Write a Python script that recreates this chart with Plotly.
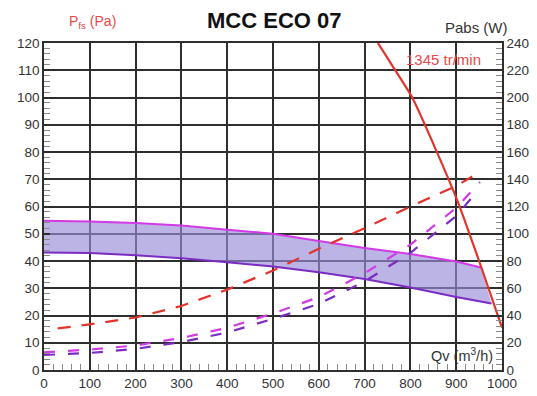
import plotly.graph_objects as go

# ---- data ----
fan_q = [729, 765, 804, 850, 903, 950, 1000]
fan_p = [120, 110.5, 100, 83, 62, 40, 15.5]

upper_q = [0, 100, 200, 300, 400, 500, 600, 700, 800, 900, 954]
upper_p = [54.8, 54.5, 53.9, 53, 51.5, 50, 47.3, 44.8, 42.6, 39.8, 37.6]

lower_q = [0, 100, 200, 300, 400, 500, 600, 700, 800, 900, 977]
lower_p = [43.1, 42.9, 42.1, 41, 39.5, 38, 35.9, 33.4, 30.3, 26.8, 24.4]

pabs_red_q = [30, 100, 200, 300, 400, 500, 600, 700, 800, 900, 935]
pabs_red_w = [30.5, 33.5, 38.5, 47, 59, 73, 89, 104, 120, 135, 142]

pabs_mag_q = [0, 100, 200, 300, 400, 500, 600, 700, 800, 900, 952]
pabs_mag_w = [13, 15, 18, 23.5, 31, 41.5, 53.5, 71, 92, 119, 138]

pabs_pur_q = [0, 100, 200, 300, 400, 500, 600, 700, 800, 900, 938]
pabs_pur_w = [11, 12.5, 15.5, 20.5, 27.5, 37.5, 48.5, 65, 86, 113, 128]

x_ticks = list(range(0, 1001, 100))
left_ticks = list(range(0, 121, 10))
right_ticks = list(range(0, 241, 20))

RED = "#e3342c"
LABEL_RED = "#e8484a"
MAG = "#d23ae6"
PUR = "#7b2cc2"
FILL = "rgba(150,140,215,0.65)"
GRID = "#2e2e2e"
MINOR = "#8a8a8a"
FONT = "Liberation Sans, Arial, sans-serif"

fig = go.Figure()

# band fill
fig.add_trace(go.Scatter(
    x=upper_q + lower_q[::-1], y=upper_p + lower_p[::-1],
    fill="toself", fillcolor=FILL, line=dict(width=0), mode="lines",
    hoverinfo="skip", showlegend=False))
fig.add_trace(go.Scatter(x=upper_q, y=upper_p, mode="lines",
                         line=dict(color=MAG, width=2), showlegend=False))
fig.add_trace(go.Scatter(x=lower_q, y=lower_p, mode="lines",
                         line=dict(color=PUR, width=2), showlegend=False))

# power curves (right axis)
fig.add_trace(go.Scatter(x=pabs_red_q, y=pabs_red_w, yaxis="y2", mode="lines",
                         line=dict(color=RED, width=2.2, dash="13px,11px"), showlegend=False))
fig.add_trace(go.Scatter(x=pabs_mag_q, y=pabs_mag_w, yaxis="y2", mode="lines",
                         line=dict(color=MAG, width=2.2, dash="11px,13px"), showlegend=False))
fig.add_trace(go.Scatter(x=pabs_pur_q, y=pabs_pur_w, yaxis="y2", mode="lines",
                         line=dict(color=PUR, width=2.2, dash="11px,13px"), showlegend=False))

# fan curve
fig.add_trace(go.Scatter(x=fan_q, y=fan_p, mode="lines",
                         line=dict(color=RED, width=2.2, shape="spline", smoothing=0.6),
                         showlegend=False))

tickfont = dict(size=13.5, color="#333", family=FONT)

fig.update_layout(
    width=537, height=396,
    margin=dict(l=44, r=35, t=43, b=26),
    paper_bgcolor="white", plot_bgcolor="white",
    font=dict(family=FONT, size=13, color="#333"),
    xaxis=dict(range=[x_ticks[0], x_ticks[-1]], tickmode="linear", tick0=x_ticks[0],
               dtick=x_ticks[1] - x_ticks[0], showgrid=True, automargin=False,
               gridcolor=GRID, gridwidth=1.5, zeroline=False,
               showline=True, linecolor=GRID, linewidth=1.5, mirror=True,
               ticks="inside", ticklen=6, tickcolor=GRID, tickwidth=1.5,
               minor=dict(ticks="inside", dtick=20, ticklen=6, tickcolor=MINOR,
                          tickwidth=1, showgrid=False),
               tickfont=tickfont),
    yaxis=dict(range=[left_ticks[0], left_ticks[-1]], tickmode="linear", tick0=left_ticks[0],
               dtick=left_ticks[1] - left_ticks[0], showgrid=True, automargin=False,
               gridcolor=GRID, gridwidth=1.5, zeroline=False,
               showline=True, linecolor=GRID, linewidth=1.5,
               ticks="inside", ticklen=6, tickcolor=GRID, tickwidth=1.5,
               minor=dict(ticks="inside", dtick=2, ticklen=6, tickcolor=MINOR,
                          tickwidth=1, showgrid=False),
               tickfont=tickfont),
    yaxis2=dict(range=[right_ticks[0], right_ticks[-1]], tickmode="linear", tick0=right_ticks[0],
                dtick=right_ticks[1] - right_ticks[0], overlaying="y", side="right",
                automargin=False, showgrid=False, zeroline=False, showline=True,
                linecolor=GRID, linewidth=1.5, ticks="inside", ticklen=6, tickcolor=GRID,
                tickwidth=1.5,
                minor=dict(ticks="inside", dtick=4, ticklen=6, tickcolor=MINOR,
                           tickwidth=1, showgrid=False),
                tickfont=tickfont),
    annotations=[
        dict(text="<b>MCC ECO 07</b>", x=0.503, y=1.0, xref="paper", yref="paper",
             yanchor="middle", yshift=23, showarrow=False,
             font=dict(size=22, color="#111", family=FONT)),
        dict(text="P<sub>fs</sub> (Pa)", x=0.05, y=1.0, xref="paper", yref="paper",
             xanchor="left", yanchor="middle", yshift=21, showarrow=False,
             font=dict(size=14, color=LABEL_RED, family=FONT)),
        dict(text="Pabs (W)", x=1.0, y=1.0, xref="paper", yref="paper",
             yanchor="middle", yshift=16, xshift=8, xanchor="right", showarrow=False,
             font=dict(size=15, color="#333", family=FONT)),
        dict(text="Qv (m<sup>3</sup>/h)", x=1.0, y=0, xref="paper", yref="paper",
             xanchor="right", yanchor="middle", xshift=-7, yshift=15, showarrow=False,
             font=dict(size=14.5, color="#333", family=FONT)),
        dict(text="1345 tr/min", x=873, y=114, xref="x", yref="y", showarrow=False,
             font=dict(size=15, color=LABEL_RED, family=FONT)),
    ],
)

fig.write_html("out.html", config={"displayModeBar": False},
               post_script="document.body.style.margin='0';document.body.style.overflow='hidden';")
